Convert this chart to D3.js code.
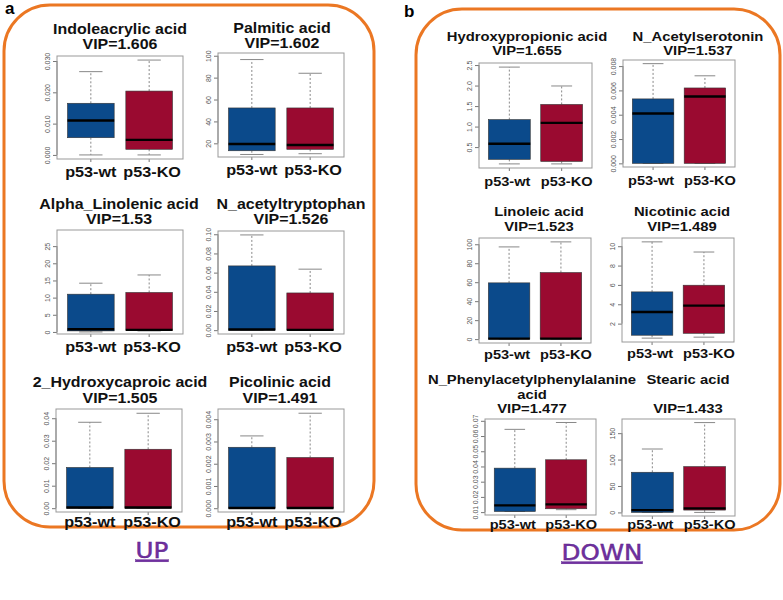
<!DOCTYPE html>
<html><head><meta charset="utf-8">
<script src="https://cdn.jsdelivr.net/npm/d3@7"></script>
<style>body{margin:0;background:#fff}</style>
</head><body><svg id="c" width="783" height="600"></svg>
<script>
// ---------------- DATA ----------------
const metaboliteLines = [
  ["Indoleacrylic acid"], ["Palmitic acid"],
  ["Alpha_Linolenic acid"], ["N_acetyltryptophan"],
  ["2_Hydroxycaproic acid"], ["Picolinic acid"],
  ["Hydroxypropionic acid"], ["N_Acetylserotonin"],
  ["Linoleic acid"], ["Nicotinic acid"],
  ["N_Phenylacetylphenylalanine", "acid"], ["Stearic acid", ""]
];
const vipValues = ["1.606","1.602","1.53","1.526","1.505","1.491",
                   "1.655","1.537","1.523","1.489","1.477","1.433"];
const groups = ["p53-wt", "p53-KO"];
// [lower whisker, Q1, median, Q3, upper whisker]
const wtStats = [
  [0.0000, 0.0055, 0.0110, 0.0165, 0.0266],
  [9.8, 13.2, 19.4, 52.3, 96.5],
  [0.0, 0.3, 0.8, 11.0, 14.2],
  [0.0, 0.0, 0.0007, 0.067, 0.0993],
  [0.0, 0.0, 0.0003, 0.0181, 0.0382],
  [0.0, 0.0, 0.00001, 0.00274, 0.00325],
  [0.09, 0.20, 0.58, 1.17, 2.45],
  [0.0, 0.0, 0.0041, 0.0053, 0.0082],
  [0.0, 0.0, 0.5, 59.3, 97.2],
  [0.5, 0.8, 3.2, 5.28, 10.45],
  [0.0104, 0.0104, 0.0144, 0.0389, 0.0644],
  [0.0, 0.0, 4.4, 76.0, 120.0]
];
const koStats = [
  [0.0000, 0.0018, 0.0048, 0.0204, 0.0303],
  [10.5, 14.5, 18.5, 52.3, 84.0],
  [0.3, 0.4, 0.6, 11.5, 16.6],
  [0.0, 0.0, 0.0003, 0.0388, 0.0636],
  [0.0, 0.0, 0.0003, 0.0262, 0.0422],
  [0.0, 0.0, 0.00001, 0.00228, 0.00427],
  [0.09, 0.15, 1.09, 1.54, 1.99],
  [0.0, 0.0, 0.0055, 0.0062, 0.0072],
  [0.0, 0.0, 0.5, 70.2, 102.5],
  [0.6, 1.0, 3.86, 5.97, 9.4],
  [0.0116, 0.0122, 0.0151, 0.0444, 0.0689],
  [0.0, 4.4, 7.6, 86.7, 170.0]
];
const yDomains = [
  [-0.0013, 0.0316], [7.5, 102.5], [-0.6, 29.7], [-0.004, 0.1034],
  [-0.0017, 0.0441], [-0.00017, 0.00446], [-0.01, 2.55], [-0.0003, 0.0085],
  [-4.1, 106.6], [0.1, 10.85], [0.0081, 0.0712], [-6.8, 176.8]
];
const yTicks = [
  [0, 0.01, 0.02, 0.03], [20, 40, 60, 80, 100], [0, 5, 10, 15, 20, 25],
  [0, 0.02, 0.04, 0.06, 0.08, 0.10], [0, 0.01, 0.02, 0.03, 0.04],
  [0, 0.001, 0.002, 0.003, 0.004], [0.5, 1.0, 1.5, 2.0, 2.5],
  [0, 0.002, 0.004, 0.006, 0.008], [0, 20, 40, 60, 80, 100],
  [2, 4, 6, 8, 10], [0.01, 0.02, 0.03, 0.04, 0.05, 0.06, 0.07], [0, 50, 100, 150]
];
const tickFormats = [".3f", "d", "d", ".2f", ".2f", ".3f", ".1f", ".3f", "d", "d", ".2f", "d"];
const sectionLetters = ["a", "b"];
const sectionWords = ["UP", "DOWN"];

// ---------------- LAYOUT ----------------
const layout = [
  {x:57, y:56, w:126, h:103, tx:120, tb:34, ls:15, tf:14, xf:15, d0:0, d1:3, xb:18},
  {x:218,y:53, w:126, h:104, tx:282, tb:33, ls:15, tf:14, xf:15, d0:0, d1:3, xb:18},
  {x:57, y:230,w:126, h:104, tx:119, tb:209,ls:15, tf:14, xf:15, d0:0, d1:3, xb:18},
  {x:218,y:231,w:126, h:103, tx:291, tb:209,ls:15, tf:14, xf:15, d0:0, d1:3, xb:18},
  {x:56, y:409,w:126, h:103, tx:120, tb:387,ls:16, tf:14, xf:15, d0:0, d1:4, xb:15},
  {x:218,y:409,w:126, h:103, tx:280, tb:387,ls:16, tf:14, xf:15, d0:0, d1:3, xb:15},
  {x:479,y:63, w:113, h:105, tx:527, tb:41, ls:14, tf:13, xf:13.5, d0:-2, d1:5, xb:18},
  {x:623,y:60, w:112, h:107, tx:698, tb:41, ls:14, tf:13, xf:13.5, d0:-2, d1:5, xb:18},
  {x:479,y:238,w:112, h:105, tx:539, tb:216,ls:15, tf:13, xf:13.5, d0:-2, d1:5, xb:16},
  {x:622,y:238,w:112, h:104, tx:682, tb:216,ls:15, tf:13, xf:13.5, d0:-2, d1:5, xb:16},
  {x:485,y:419,w:111, h:96,  tx:532, tb:384,ls:14.5, tf:13, xf:13.5, d0:-2, d1:5, xb:14},
  {x:622,y:419,w:113, h:97,  tx:688, tb:384,ls:14.5, tf:13, xf:13.5, d0:-2, d1:5, xb:13}
];
const sections = [
  {x:4, y:5, w:370, h:522, r:46, lx:5, ly:14, wx:152, wy:558},
  {x:416, y:9, w:364, h:521, r:46, lx:404, ly:17, wx:602, wy:560}
];

const boxColors = ["#0B4A8B", "#9A0A30"];
const FONT = "'Liberation Sans', Arial, Helvetica, sans-serif";
const svg = d3.select("#c");

sections.forEach((s, i) => {
  svg.append("rect").attr("x", s.x).attr("y", s.y).attr("width", s.w).attr("height", s.h)
    .attr("rx", s.r).attr("ry", s.r).attr("fill", "none")
    .attr("stroke", "#EB7723").attr("stroke-width", 3);
  svg.append("text").attr("x", s.lx).attr("y", s.ly).text(sectionLetters[i])
    .attr("font-family", FONT).attr("font-weight", "bold").attr("font-size", 17).attr("fill", "#000");
  svg.append("text").attr("transform", `translate(${s.wx},${s.wy}) scale(1.3,1)`)
    .attr("text-anchor", "middle")
    .text(sectionWords[i]).attr("font-family", "'DejaVu Sans Condensed', 'DejaVu Sans', sans-serif")
    .attr("font-size", 21).attr("fill", "#7030A0").attr("stroke", "#5a1f8a").attr("stroke-width", 0.4)
    .attr("text-decoration", "underline");
});

metaboliteLines.forEach((lines, i) => {
  const L = layout[i];
  const g = svg.append("g");
  const x = d3.scaleLinear().domain([0.42, 2.58]).range([L.x, L.x + L.w]);
  const y = d3.scaleLinear().domain(yDomains[i]).range([L.y + L.h, L.y]);
  const unit = x(2) - x(1);
  const bw = unit * 0.8;

  const allLines = lines.concat(["VIP=" + vipValues[i]]);
  allLines.forEach((t, k) => {
    g.append("text").attr("transform", `translate(${L.tx},${L.tb + k * L.ls}) scale(1.14,1)`)
      .attr("text-anchor", "middle")
      .attr("font-family", FONT).attr("font-weight", "bold").attr("font-size", L.tf)
      .attr("fill", "#111").text(t);
  });

  const yAxis = d3.axisLeft(y).tickValues(yTicks[i]).tickFormat(d3.format(tickFormats[i]))
    .tickSize(4).tickSizeOuter(0);
  const ya = g.append("g").attr("transform", `translate(${L.x},0)`).call(yAxis);
  ya.select(".domain").remove();
  const tv = yTicks[i];
  ya.append("line").attr("x1", 0).attr("x2", 0).attr("y1", y(tv[0])).attr("y2", y(tv[tv.length-1]))
    .attr("stroke", "#777");
  ya.selectAll(".tick line").attr("stroke", "#777");
  ya.selectAll(".tick text").attr("font-family", FONT).attr("font-size", 7).attr("fill", "#555")
    .attr("text-anchor", "middle").attr("dy", 0)
    .attr("transform", "translate(-7,0) rotate(-90)")
    .attr("x", 0).attr("y", 0);

  const xa = g.append("g").attr("transform", `translate(0,${L.y + L.h})`);
  const shifts = [L.d0, L.d1];
  groups.forEach((gr, k) => {
    xa.append("line").attr("x1", x(k + 1)).attr("x2", x(k + 1)).attr("y1", 0).attr("y2", 3)
      .attr("stroke", "#777");
    xa.append("text").attr("transform", `translate(${x(k + 1) + shifts[k]},${L.xb}) scale(1.08,1)`)
      .attr("text-anchor", "middle")
      .attr("font-family", FONT).attr("font-weight", "bold").attr("font-size", L.xf)
      .attr("fill", "#111").text(gr);
  });

  [wtStats[i], koStats[i]].forEach((s, k) => {
    const cx = x(k + 1);
    const [lo, q1, md, q3, hi] = s;
    g.append("line").attr("x1", cx).attr("x2", cx).attr("y1", y(q3)).attr("y2", y(hi))
      .attr("stroke", "#888").attr("stroke-dasharray", "2,2").attr("stroke-width", 1);
    g.append("line").attr("x1", cx).attr("x2", cx).attr("y1", y(q1)).attr("y2", y(lo))
      .attr("stroke", "#888").attr("stroke-dasharray", "2,2").attr("stroke-width", 1);
    g.append("line").attr("x1", cx - bw / 4).attr("x2", cx + bw / 4).attr("y1", y(hi)).attr("y2", y(hi))
      .attr("stroke", "#888").attr("stroke-width", 1);
    g.append("line").attr("x1", cx - bw / 4).attr("x2", cx + bw / 4).attr("y1", y(lo)).attr("y2", y(lo))
      .attr("stroke", "#888").attr("stroke-width", 1);
    g.append("rect").attr("x", cx - bw / 2).attr("y", y(q3)).attr("width", bw)
      .attr("height", Math.max(0.5, y(q1) - y(q3))).attr("fill", boxColors[k])
      .attr("stroke", "#333").attr("stroke-width", 0.6);
    g.append("line").attr("x1", cx - bw / 2).attr("x2", cx + bw / 2).attr("y1", y(md)).attr("y2", y(md))
      .attr("stroke", "#000").attr("stroke-width", 2.4);
  });

  g.append("rect").attr("x", L.x).attr("y", L.y).attr("width", L.w).attr("height", L.h)
    .attr("fill", "none").attr("stroke", "#999").attr("stroke-width", 1);
});
</script></body></html>
